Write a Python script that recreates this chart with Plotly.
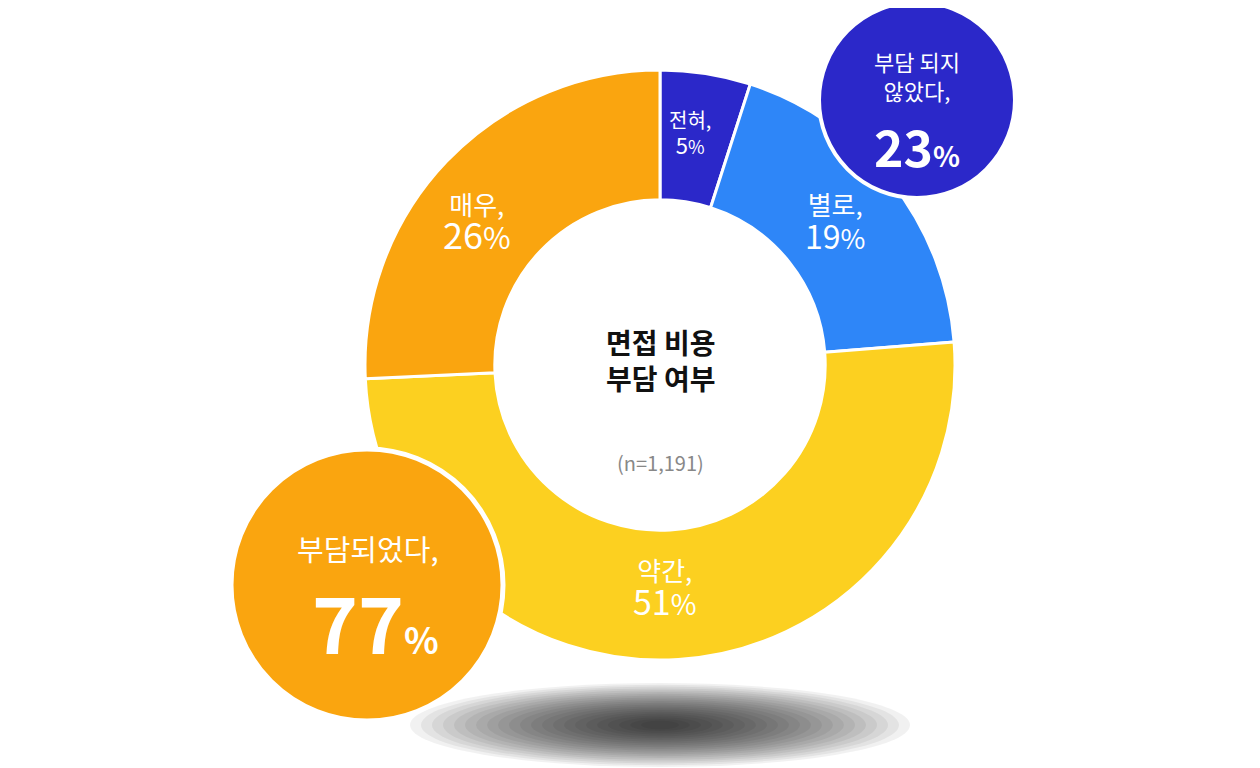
import plotly.graph_objects as go

labels = ["전혀", "별로", "약간", "매우"]
values = [5, 19, 51, 26]
colors = ["#2B28C9", "#2E86F8", "#FCD020", "#FAA50F"]
summary_labels = ["부담 되지<br>않았다,", "부담되었다,"]
summary_values = [23, 77]
title_text = "면접 비용<br>부담 여부"
n_text = "(n=1,191)"

W, H = 1260, 768
F = "Noto Sans CJK KR"
OX, OY = 8, 8
def px(x): return (x - OX) / W
def py(y): return 1 - (y - OY) / H

fig = go.Figure(go.Pie(
    labels=labels, values=values, sort=False, direction="clockwise", rotation=0,
    hole=0.56, marker=dict(colors=colors, line=dict(color="white", width=3)),
    textinfo="none", hoverinfo="label+percent",
    domain=dict(x=[px(365), px(955)], y=[py(660), py(70)]), showlegend=False))

shapes = []
for i in range(22):
    rx = 250 - i * 11; ry = 42 - i * 1.8
    shapes.append(dict(type="circle", xref="paper", yref="paper", layer="below",
        x0=px(660 - rx), x1=px(660 + rx), y0=py(725 + ry), y1=py(725 - ry),
        fillcolor="rgba(0,0,0,0.055)", line=dict(width=0)))
shapes.append(dict(type="circle", xref="paper", yref="paper", layer="above",
    x0=px(917 - 98), x1=px(917 + 98), y0=py(100 + 98), y1=py(100 - 98),
    fillcolor="#2B28C9", line=dict(color="white", width=4)))
shapes.append(dict(type="circle", xref="paper", yref="paper", layer="above",
    x0=px(367 - 136), x1=px(367 + 136), y0=py(585 + 136), y1=py(585 - 136),
    fillcolor="#FAA50F", line=dict(color="white", width=5)))

ann = []
def a(x, y, t, size, color="white", bold=False):
    if bold: t = "<b>" + t + "</b>"
    ann.append(dict(x=px(x), y=py(y), xref="paper", yref="paper", text=t, showarrow=False,
                    xanchor="center", yanchor="middle",
                    font=dict(family=F, size=size, color=color)))

pos = [(690, 132), (835, 222), (665, 588), (477, 222)]
sizes = [(20, 22), (26, 32), (26, 34), (26, 36)]
for (x, y), l, v, (s1, s2) in zip(pos, labels, values, sizes):
    a(x, y, f"{l},<br><span style='font-size:{s2}px'>{v}<span style='font-size:{int(s2*0.85)}px'>%</span></span>", s1)

a(660, 360, title_text, 28, "#111111", True)
a(660, 462, n_text, 20, "#888888")
a(917, 75, summary_labels[0], 22)
a(917, 145, f"{summary_values[0]}<span style='font-size:28px'>%</span>", 50, bold=True)
a(367, 548, summary_labels[1], 29)
a(375, 620, f"{summary_values[1]}<span style='font-size:36px'>%</span>", 78, bold=True)

fig.update_layout(width=W, height=H, margin=dict(l=0, r=0, t=0, b=0),
                  paper_bgcolor="white", plot_bgcolor="white",
                  shapes=shapes, annotations=ann, font=dict(family=F))
fig.write_html("out.html")
